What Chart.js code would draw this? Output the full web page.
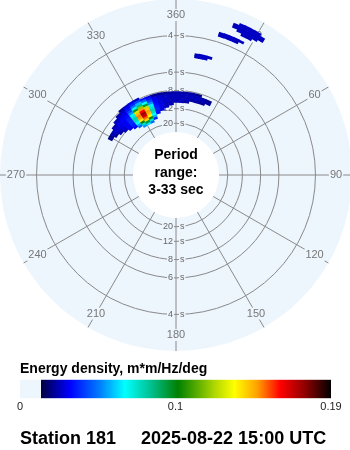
<!DOCTYPE html>
<html>
<head>
<meta charset="utf-8">
<script src="https://cdn.jsdelivr.net/npm/chart.js@4.4.1/dist/chart.umd.min.js"></script>
<style>
  html, body { margin: 0; padding: 0; background: #fff; overflow: hidden; }
  body { width: 350px; height: 450px; position: relative; }
  #polarBox { position: absolute; left: 0; top: -1px; width: 352px; height: 352px; }
  #barBox { position: absolute; left: 0; top: 355px; width: 350px; height: 95px; }
</style>
</head>
<body>
<div id="polarBox"><canvas id="polar"></canvas></div>
<div id="barBox"><canvas id="colorbar"></canvas></div>
<script>
// directions are degrees clockwise from north, radius is frequency (Hz)
const directionLabels = ['360', '30', '60', '90', '120', '150', '180', '210', '240', '270', '300', '330'];
const ringPeriods = [4, 6, 8, 12, 20];
const periodRange = [3, 33];

// main wind-sea blob, 4 deg x 0.005 Hz cells
const windSeaDirs = [296, 300, 304, 308, 312, 316, 320, 324, 328, 332, 336, 340, 344, 348, 352, 356, 0, 4, 8, 12, 16, 20, 24, 28];
const windSeaFreqs = [0.060, 0.065, 0.070, 0.075, 0.080, 0.085, 0.090, 0.095, 0.100, 0.105, 0.110, 0.115, 0.120, 0.125];
const windSeaEnergy = [
  [0, 0, 0, 0, 0, 0, 0, 0, 0, 0, 0, 0, 0, 0, 0, 0, 0, 0, 0, 0, 0, 0, 0, 0],
  [0, 0, 0, 0, 0, 0, 0, 0, .051, .060, .045, 0, 0, 0, 0, 0, 0, 0, 0, 0, 0, 0, 0, 0],
  [0, 0, 0, 0, 0, 0, 0, .044, .072, .090, .072, .035, 0, 0, 0, 0, 0, 0, 0, 0, 0, 0, 0, 0],
  [0, 0, 0, 0, 0, 0, .030, .054, .097, .137, .097, .054, 0, 0, 0, 0, 0, 0, 0, 0, 0, 0, 0, 0],
  [0, 0, 0, 0, 0, .028, .033, .064, .134, .150, .130, .064, .033, 0, 0, 0, 0, 0, 0, 0, 0, 0, 0, 0],
  [0, 0, 0, 0, .024, .030, .035, .072, .143, .165, .140, .072, .034, .028, 0, 0, 0, 0, 0, 0, 0, 0, 0, 0],
  [0, 0, 0, .022, .026, .030, .036, .075, .148, .172, .145, .075, .035, .028, .024, 0, 0, 0, 0, 0, 0, 0, 0, 0],
  [0, 0, .020, .025, .027, .030, .035, .070, .142, .160, .138, .070, .034, .028, .025, .024, 0, 0, 0, 0, 0, 0, 0, 0],
  [0, .020, .024, .026, .028, .030, .034, .063, .125, .145, .122, .063, .032, .027, .025, .024, .024, .024, .022, 0, 0, 0, 0, 0],
  [0, .020, .024, .026, .028, .030, .032, .051, .092, .115, .090, .051, .030, .027, .025, .024, .024, .024, .024, .022, .022, .020, 0, 0],
  [0, 0, 0, .022, .026, .028, .030, .041, .066, .080, .064, .041, .029, .026, .025, .024, .024, .024, .024, .024, .024, .023, .022, 0],
  [0, 0, 0, 0, .024, .026, .028, .034, .047, .056, .046, .034, .027, .025, .024, .024, .024, .024, .024, .024, .024, .022, .020, 0],
  [0, 0, 0, 0, 0, .022, .025, .030, .036, .040, .034, .028, .020, .020, .020, .022, .022, .022, .022, .022, .020, 0, 0, 0],
  [0, 0, 0, 0, 0, 0, .020, .025, .028, .025, 0, 0, 0, 0, 0, 0, 0, 0, 0, 0, 0, 0, 0, 0]
];

// three small short-period patches, 2 deg x 0.005 Hz cells
const swellDirs = [
  22, 22, 24, 24, 24, 24, 26, 26, 26, 26, 26, 28, 28, 28, 28, 28, 30, 30, 30, 30, 32, 32,
  18, 18, 20, 20, 22, 22, 24, 24, 26,
  10, 10, 12, 12, 14, 14, 16
];
const swellFreqs = [
  0.295, 0.300, 0.290, 0.295, 0.300, 0.305, 0.285, 0.290, 0.295, 0.300, 0.305, 0.285, 0.290, 0.295, 0.300, 0.305, 0.290, 0.295, 0.300, 0.305, 0.295, 0.300,
  0.265, 0.270, 0.265, 0.270, 0.265, 0.270, 0.265, 0.270, 0.270,
  0.205, 0.210, 0.205, 0.210, 0.205, 0.210, 0.210
];
const swellEnergy = [
  .024, .024, .025, .025, .025, .025, .024, .025, .025, .025, .025, .024, .025, .025, .025, .025, .025, .025, .025, .025, .024, .024,
  .024, .024, .025, .025, .025, .025, .024, .024, .024,
  .024, .024, .025, .025, .025, .025, .024
];

const energyFloor = 0.0128;
const energyMax = 0.19;
const colorbarTicks = [0, 0.095, 0.19];
const colorbarTickLabels = ['0', '0.1', '0.19'];
const colorStops = [
  [0.0128, [0, 0, 64]], [0.0305, [0, 0, 255]], [0.049, [0, 128, 255]], [0.064, [0, 255, 255]],
  [0.080, [0, 192, 144]], [0.0965, [0, 128, 0]], [0.107, [80, 168, 0]], [0.119, [176, 216, 0]],
  [0.131, [255, 255, 0]], [0.145, [255, 160, 0]], [0.159, [255, 0, 0]], [0.174, [144, 0, 0]],
  [0.19, [0, 0, 0]]
];

const colorbarTitle = 'Energy density, m*m/Hz/deg';
const stationLine = 'Station 181     2025-08-22 15:00 UTC';

const discColor = '#edf5fd';
const gridColor = '#8a8a8a';
const FONT = '"Liberation Sans", Arial, sans-serif';

function energyColor(v) {
  if (v <= colorStops[0][0]) return 'rgb(' + colorStops[0][1].join(',') + ')';
  for (let i = 1; i < colorStops.length; i++) {
    if (v <= colorStops[i][0]) {
      const a = colorStops[i - 1], b = colorStops[i];
      const t = (v - a[0]) / (b[0] - a[0]);
      const c = a[1].map((x, k) => Math.round(x + (b[1][k] - x) * t));
      return 'rgb(' + c.join(',') + ')';
    }
  }
  return 'rgb(0,0,0)';
}

function drawCell(ctx, s, dir, freq, dDir, dFreq, value) {
  if (value < energyFloor) return;
  const base = s.getIndexAngle(0) - Math.PI / 2;
  const a0 = base + (dir - dDir / 2) * Math.PI / 180 - 0.004;
  const a1 = base + (dir + dDir / 2) * Math.PI / 180 + 0.004;
  const r0 = s.getDistanceFromCenterForValue(freq - dFreq / 2) - 0.3;
  const r1 = s.getDistanceFromCenterForValue(freq + dFreq / 2) + 0.3;
  ctx.fillStyle = energyColor(value);
  ctx.beginPath();
  ctx.arc(s.xCenter, s.yCenter, r1, a0, a1);
  ctx.arc(s.xCenter, s.yCenter, r0, a1, a0, true);
  ctx.closePath();
  ctx.fill();
}

function backdropText(ctx, text, x, y, align) {
  const w = ctx.measureText(text).width;
  const left = align === 'right' ? x - w : (align === 'left' ? x : x - w / 2);
  ctx.fillStyle = discColor;
  ctx.fillRect(left - 1, y - 6, w + 2, 12);
  ctx.fillStyle = ctx._labelColor;
  ctx.textAlign = align;
  ctx.fillText(text, x, y);
}

const polarPlugin = {
  id: 'polarSpectrum',
  beforeDraw(chart) {
    const s = chart.scales.r, ctx = chart.ctx;
    ctx.save();
    ctx.fillStyle = discColor;
    ctx.beginPath();
    ctx.arc(s.xCenter, s.yCenter, s.drawingArea, 0, Math.PI * 2);
    ctx.fill();
    ctx.restore();
  },
  afterDatasetsDraw(chart) {
    const s = chart.scales.r, ctx = chart.ctx;
    ctx.save();
    ctx.textBaseline = 'middle';

    // direction labels on the spokes
    ctx.font = '11px ' + FONT;
    ctx._labelColor = '#777';
    directionLabels.forEach((lab, i) => {
      const p = s.getPointPosition(i, s.drawingArea - 16);
      backdropText(ctx, lab, p.x, p.y, 'center');
    });

    // period labels on the rings, top and bottom
    ctx.font = '9px ' + FONT;
    ctx._labelColor = '#666';
    ringPeriods.forEach(per => {
      const d = s.getDistanceFromCenterForValue(1 / per);
      [0, 6].forEach(idx => {
        const p = s.getPointPosition(idx, d);
        backdropText(ctx, String(per), p.x - 3, p.y, 'right');
        backdropText(ctx, 's', p.x + 4, p.y, 'left');
      });
    });

    // energy cells
    const cells = [];
    windSeaFreqs.forEach((f, ri) => windSeaDirs.forEach((d, ci) => {
      cells.push([d, f, 4, 0.005, windSeaEnergy[ri][ci]]);
    }));
    swellDirs.forEach((d, i) => cells.push([d, swellFreqs[i], 2, 0.005, swellEnergy[i]]));
    cells.sort((a, b) => a[4] - b[4]);
    cells.forEach(c => drawCell(ctx, s, c[0], c[1], c[2], c[3], c[4]));

    // inner hole (periods longer than the range)
    ctx.fillStyle = '#ffffff';
    ctx.beginPath();
    ctx.arc(s.xCenter, s.yCenter, s.getDistanceFromCenterForValue(1 / periodRange[1]), 0, Math.PI * 2);
    ctx.fill();

    ctx.fillStyle = '#000';
    ctx.textAlign = 'center';
    ctx.textBaseline = 'alphabetic';
    ctx.font = 'bold 14px ' + FONT;
    const lines = ['Period', 'range:', periodRange[0] + '-' + periodRange[1] + ' sec'];
    lines.forEach((t, i) => ctx.fillText(t, s.xCenter, s.yCenter - 16 + i * 17.5));
    ctx.restore();
  }
};

new Chart(document.getElementById('polar'), {
  type: 'radar',
  data: { labels: directionLabels, datasets: [{ data: [], pointRadius: 0, borderWidth: 0 }] },
  options: {
    responsive: true,
    maintainAspectRatio: false,
    animation: false,
    devicePixelRatio: 1,
    layout: { padding: 0 },
    plugins: { legend: { display: false }, tooltip: { enabled: false } },
    scales: {
      r: {
        min: -0.068,
        max: 1 / periodRange[0],
        startAngle: 0,
        afterBuildTicks: sc => { sc.ticks = ringPeriods.map(p => ({ value: 1 / p })); },
        grid: { circular: true, color: gridColor, lineWidth: 1 },
        angleLines: { color: gridColor, lineWidth: 1 },
        ticks: { display: false },
        pointLabels: { display: false }
      }
    }
  },
  plugins: [polarPlugin]
});

const colorbarPlugin = {
  id: 'colorbarFill',
  beforeDatasetsDraw(chart) {
    const x = chart.scales.x, area = chart.chartArea, ctx = chart.ctx;
    ctx.save();
    for (let px = Math.round(area.left); px < Math.round(area.right); px++) {
      const v = x.getValueForPixel(px + 0.5);
      ctx.fillStyle = v < energyFloor ? discColor : energyColor(v);
      ctx.fillRect(px, area.top, 1, area.bottom - area.top);
    }
    ctx.restore();
  }
};

new Chart(document.getElementById('colorbar'), {
  type: 'scatter',
  data: { datasets: [{ data: [] }] },
  options: {
    responsive: true,
    maintainAspectRatio: false,
    animation: false,
    devicePixelRatio: 1,
    layout: { padding: { left: 20, right: 19, top: 0, bottom: 0 } },
    plugins: {
      legend: { display: false },
      tooltip: { enabled: false },
      title: {
        display: true, text: colorbarTitle, align: 'start', color: '#000',
        font: { family: FONT, size: 14, weight: 'bold' }, padding: { top: 6, bottom: 2 }
      },
      subtitle: {
        display: true, position: 'bottom', text: stationLine, align: 'start', color: '#000',
        font: { family: FONT, size: 18, weight: 'bold' }, padding: { top: 13, bottom: 0 }
      }
    },
    scales: {
      x: {
        type: 'linear', min: 0, max: energyMax,
        grid: { display: false, drawTicks: false },
        border: { display: false },
        afterBuildTicks: sc => { sc.ticks = colorbarTicks.map(v => ({ value: v })); },
        ticks: {
          callback: (v, i) => colorbarTickLabels[i],
          color: '#222', font: { family: FONT, size: 11 }, padding: 2,
          maxRotation: 0, autoSkip: false
        }
      },
      y: { display: false, min: 0, max: 1 }
    }
  },
  plugins: [colorbarPlugin]
});
</script>
</body>
</html>
